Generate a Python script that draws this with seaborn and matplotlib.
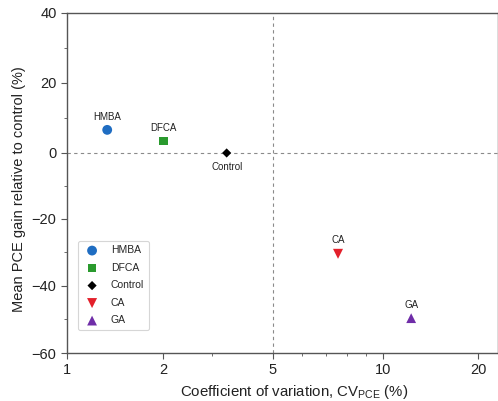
import matplotlib
matplotlib.use("Agg")
import numpy as np
import matplotlib.pyplot as plt
import matplotlib.ticker as mticker
import seaborn as sns
import pandas as pd

# Additive summary: variability vs. mean efficiency gain
additives = ["HMBA", "DFCA", "Control", "CA", "GA"]
cv_pce = [1.335, 2.0, 3.4, 7.55, 12.3]
pce_gain = [6.6, 3.4, 0.0, -30.4, -49.6]
colors = ["#1f6dc2", "#2a9a2e", "#000000", "#e3202b", "#6f2da8"]
markers = ["o", "s", "D", "v", "^"]
sizes = [50, 40, 22, 52, 50]
label_pos = ["above", "above", "below", "above", "above"]

x_major = [1, 2, 5, 10, 20]
x_minor = [3, 6, 7, 8, 9]
y_major = [-60, -40, -20, 0, 20, 40]

df = pd.DataFrame({"additive": additives, "cv": cv_pce, "gain": pce_gain})


def _piecewise(t, xs, ys):
    """Piecewise-linear map with linear extrapolation past the end knots."""
    t = np.asarray(t, dtype=float)
    out = np.interp(t, xs, ys)
    lo_slope = (ys[1] - ys[0]) / (xs[1] - xs[0])
    hi_slope = (ys[-1] - ys[-2]) / (xs[-1] - xs[-2])
    out = np.where(t < xs[0], ys[0] + (t - xs[0]) * lo_slope, out)
    out = np.where(t > xs[-1], ys[-1] + (t - xs[-1]) * hi_slope, out)
    return out


# Axis spacing between labelled ticks (log-like on x, near-linear on y)
x_knots = np.log10(x_major)
x_spacing = [0.0, 96.6, 205.8, 316.0, 411.6]
y_knots = np.array(y_major, dtype=float)
y_spacing = [0.0, 67.0, 134.0, 200.0, 270.0, 340.0]


def x_fwd(v):
    with np.errstate(divide="ignore", invalid="ignore"):
        t = np.log10(np.clip(np.asarray(v, dtype=float), 1e-300, None))
    return _piecewise(t, x_knots, x_spacing)


def x_inv(p):
    return 10 ** _piecewise(p, x_spacing, x_knots)


def y_fwd(v):
    return _piecewise(v, y_knots, y_spacing)


def y_inv(p):
    return _piecewise(p, y_spacing, y_knots)


sns.set_style("white")
plt.rcParams["font.family"] = ["Liberation Sans", "DejaVu Sans"]

fig = plt.figure(figsize=(4.98, 4.01), dpi=100)
ax = fig.add_axes([0.1345, 0.1197, 0.8655, 0.848])
ax.set_xscale("function", functions=(x_fwd, x_inv))
ax.set_yscale("function", functions=(y_fwd, y_inv))

for name, c, m, s in zip(additives, colors, markers, sizes):
    sub = df[df["additive"] == name]
    sns.scatterplot(data=sub, x="cv", y="gain", ax=ax, color=c, marker=m,
                    s=s, edgecolor="none", label=name, zorder=3)

for name, x, y, pos in zip(additives, cv_pce, pce_gain, label_pos):
    off = (0, 6) if pos == "above" else (0, -6.5)
    va = "bottom" if pos == "above" else "top"
    ax.annotate(name, (x, y), xytext=off, textcoords="offset points",
                ha="center", va=va, fontsize=7, color="#222222")

ax.axhline(0, color="#8a8a8a", lw=0.8, ls=(0, (3, 3)), zorder=1)
ax.axvline(5, color="#8a8a8a", lw=0.8, ls=(0, (3, 3)), zorder=1)

ax.set_xlim(1, 23.1)
ax.set_ylim(-60, 40)
ax.xaxis.set_major_locator(mticker.FixedLocator(x_major))
ax.xaxis.set_major_formatter(mticker.FixedFormatter([str(v) for v in x_major]))
ax.xaxis.set_minor_locator(mticker.FixedLocator(x_minor))
ax.xaxis.set_minor_formatter(mticker.NullFormatter())
ax.yaxis.set_major_locator(mticker.FixedLocator(y_major))
ax.yaxis.set_major_formatter(mticker.FixedFormatter(
    [str(v).replace("-", "\u2212") for v in y_major]))
ax.yaxis.set_minor_locator(mticker.FixedLocator([-50, -30, -10, 10, 30]))
ax.yaxis.set_minor_formatter(mticker.NullFormatter())

for sp in ax.spines.values():
    sp.set_color("#555555")
    sp.set_linewidth(1.0)

ax.tick_params(axis="both", which="major", direction="out", length=4, width=0.8,
               color="#555555", labelsize=10.5, labelcolor="#222222",
               bottom=True, left=True)
ax.tick_params(axis="both", which="minor", direction="out", length=2, width=0.6,
               color="#555555", bottom=True, left=True)

ax.set_xlabel(r"Coefficient of variation, CV$_{\mathregular{PCE}}$ (%)",
              fontsize=10.8, color="#222222", labelpad=4)
ax.set_ylabel("Mean PCE gain relative to control (%)", fontsize=10.5,
              color="#222222", labelpad=4)
ax.xaxis.label.set_x(0.527)
ax.yaxis.label.set_y(0.482)

leg = ax.legend(loc="lower left", bbox_to_anchor=(78 / 498, 71 / 401),
                bbox_transform=fig.transFigure, borderaxespad=0,
                fontsize=7.5, frameon=True, borderpad=0.45, labelspacing=0.72,
                handletextpad=0.9, handlelength=1.8)
leg.get_frame().set_edgecolor("#cccccc")
leg.get_frame().set_linewidth(0.8)

fig.savefig("out.png", dpi=100)
